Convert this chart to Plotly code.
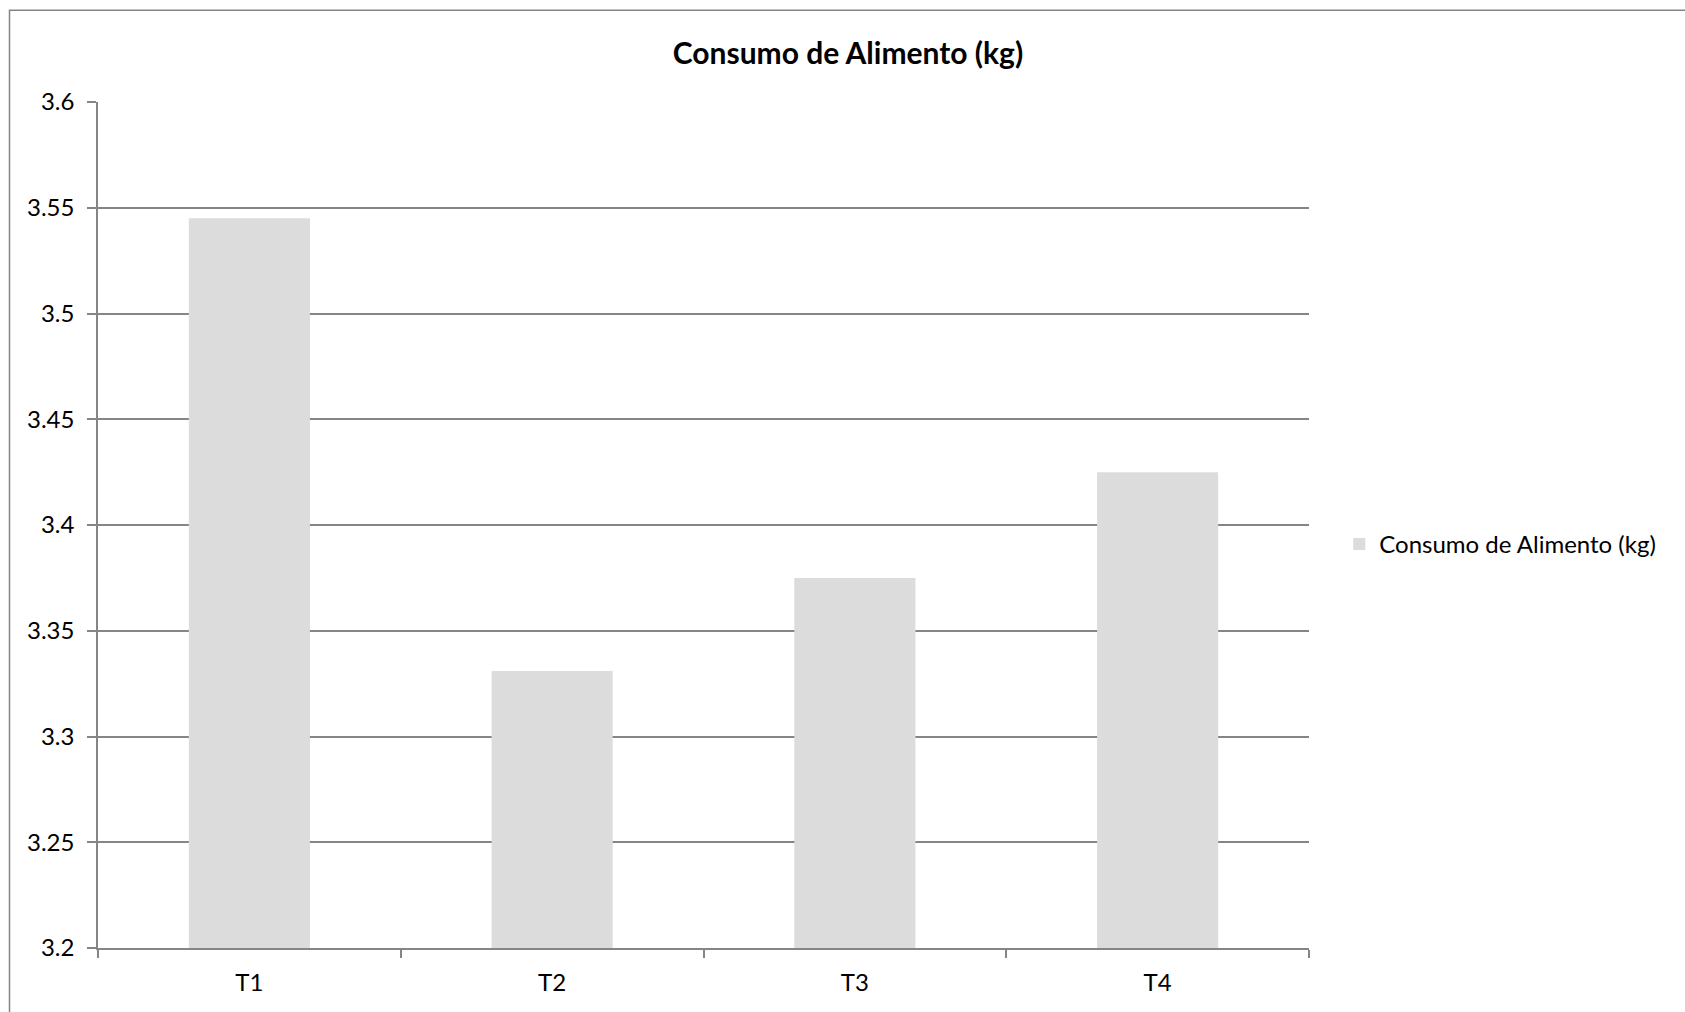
import plotly.graph_objects as go

# Feed consumption per treatment
categories = ["T1", "T2", "T3", "T4"]
consumo = [3.545, 3.331, 3.375, 3.425]
series_name = "Consumo de Alimento (kg)"
y_floor = 3.2
y_tick_vals = [3.2, 3.25, 3.3, 3.35, 3.4, 3.45, 3.5, 3.55, 3.6]
y_tick_text = ["3.2", "3.25", "3.3", "3.35", "3.4", "3.45", "3.5", "3.55", "3.6"]

FONT = "Lato"
GRID = "#858585"

fig = go.Figure()
# bars start at the axis floor, so heights are offsets from it
fig.add_trace(go.Bar(
    x=categories,
    y=[v - y_floor for v in consumo],
    base=y_floor,
    name=series_name,
    marker=dict(color="#DCDCDC", line=dict(width=0)),
    showlegend=True,
))

fig.update_layout(
    width=1685,
    height=1012,
    margin=dict(l=98, r=376, t=102, b=64),
    paper_bgcolor="white",
    plot_bgcolor="white",
    bargap=0.6,
    font=dict(family=FONT, size=24, color="black"),
    title=dict(
        text="<b>Consumo de Alimento (kg)</b>",
        x=848 / 1685,
        xref="container",
        xanchor="center",
        y=1 - 53 / 1012,
        yref="container",
        yanchor="middle",
        font=dict(family=FONT, size=30, color="black"),
    ),
    legend=dict(
        x=1.025,
        xanchor="left",
        y=0.477,
        yanchor="middle",
        font=dict(family=FONT, size=24, color="black"),
        bgcolor="rgba(0,0,0,0)",
    ),
    xaxis=dict(
        showgrid=False,
        showline=True,
        linecolor=GRID,
        linewidth=1.5,
        ticks="outside",
        tickson="boundaries",
        ticklen=8,
        tickcolor=GRID,
        tickwidth=1.5,
        ticklabelstandoff=12,
        tickfont=dict(family=FONT, size=24, color="black"),
    ),
    yaxis=dict(
        range=[3.2, 3.6],
        tickvals=y_tick_vals,
        ticktext=y_tick_text,
        showgrid=True,
        gridcolor=GRID,
        gridwidth=1.5,
        showline=True,
        linecolor=GRID,
        linewidth=1.5,
        ticks="outside",
        ticklen=9,
        tickcolor=GRID,
        tickwidth=1.5,
        ticklabelstandoff=8,
        zeroline=False,
        tickfont=dict(family=FONT, size=24, color="black"),
    ),
)

# chart frame, running off the right and bottom edges of the page
fig.add_shape(
    type="rect",
    xref="paper", yref="paper",
    x0=(9.5 - 98) / 1211, x1=1.32,
    y0=-0.12, y1=1 + (101.7 - 10) / 846,
    line=dict(color=GRID, width=1.5),
    fillcolor="rgba(0,0,0,0)",
    layer="below",
)

fig.write_html("out.html")
